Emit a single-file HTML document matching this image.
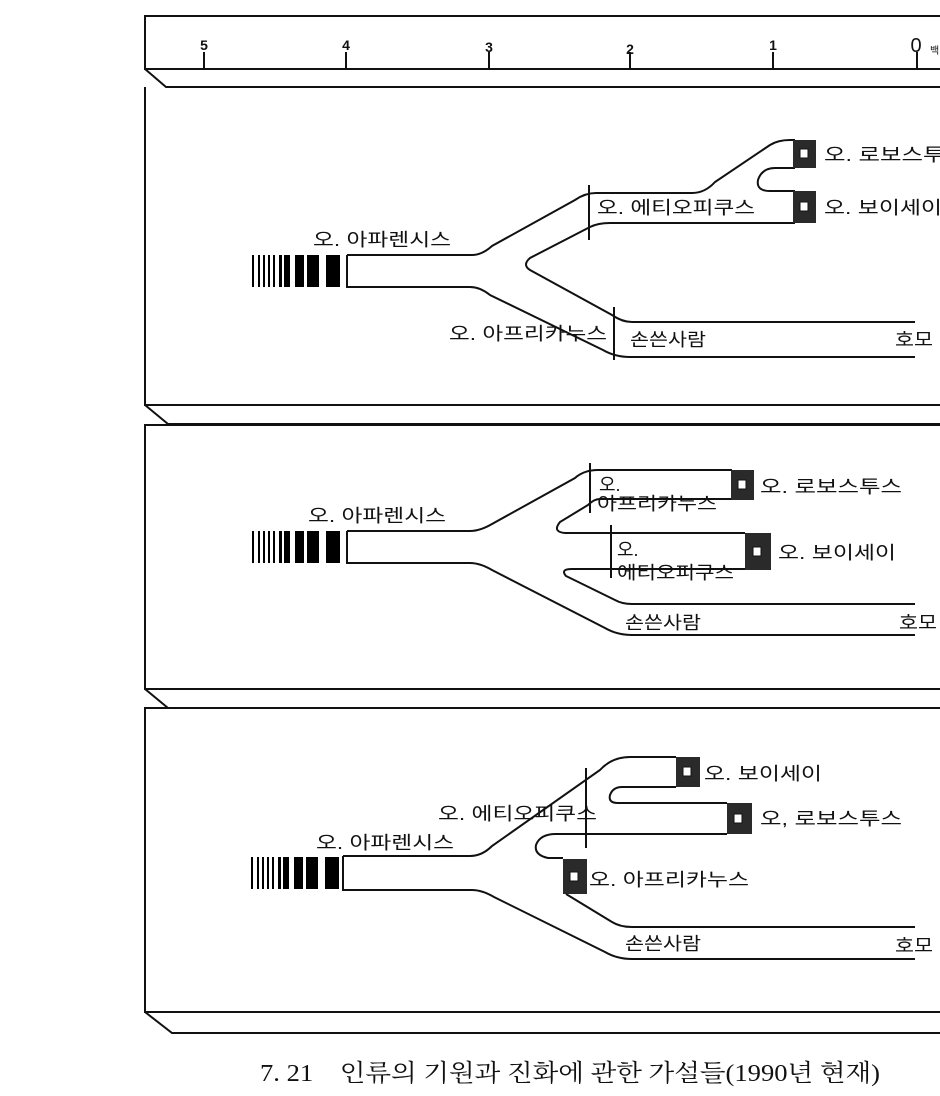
<!DOCTYPE html>
<html><head><meta charset="utf-8"><style>
html,body{margin:0;padding:0;background:#fff;}
svg{display:block;}
text{font-family:"Liberation Sans","Noto Sans CJK KR","NanumGothic",sans-serif;fill:#111;}
</style></head><body>
<svg width="940" height="1096" viewBox="0 0 940 1096" xmlns="http://www.w3.org/2000/svg">
<defs>
<g id="bars">
<rect x="252" y="0" width="2" height="32"/>
<rect x="258" y="0" width="2" height="32"/>
<rect x="263" y="0" width="2" height="32"/>
<rect x="268" y="0" width="2" height="32"/>
<rect x="273" y="0" width="2" height="32"/>
<rect x="279" y="0" width="3" height="32"/>
<rect x="284" y="0" width="6" height="32"/>
<rect x="295" y="0" width="9" height="32"/>
<rect x="307" y="0" width="12" height="32"/>
<rect x="326" y="0" width="14" height="32"/>
</g>
</defs>
<g fill="none" stroke="#111" stroke-width="2">
<path d="M940 16 H145 V69 H940"/>
<path d="M145 69 L166 87 H940"/>
<path d="M204 52 V69 M346 52 V69 M489 52 V69 M630 52 V69 M773 52 V69 M917 52 V69"/>
<path d="M145 87 V405 H940 M145 405 L168 424 H940"/>
<path d="M940 425 H145 V689 H940 M145 689 L168 708 H940"/>
<path d="M940 708 H145 V1012 H940 M145 1012 L172 1033 H940"/>
</g>

<g font-size="14" font-weight="bold" text-anchor="middle">
<text x="204" y="50">5</text><text x="346" y="50">4</text><text x="489" y="52">3</text>
<text x="630" y="54">2</text><text x="773" y="50">1</text>
</g>
<text x="916" y="52" font-size="20" text-anchor="middle">0</text>
<text x="930" y="54" font-size="10">백</text>

<g lengthAdjust="spacingAndGlyphs">
<!-- PANEL 1 -->
<use href="#bars" transform="translate(0,255)"/>
<g fill="none" stroke="#111" stroke-width="2">
<path d="M347 255 H472 Q482 255 492 246 L575 200 Q585 193 596 193 H692 Q705 193 715 182 L770 145 Q778 140 790 140 H795"/>
<path d="M347 255 V287 H470 Q480 287 490 295 L603 350 Q615 357 630 357 H915"/>
<path d="M915 322 H632 Q622 322 612 315 L530 270 Q522 265 530 258 L590 227 Q598 223 610 223 H795"/>
<path d="M795 168 H775 Q762 168 758 180 Q756 191 770 191 H795"/>
<path d="M589 185 V240 M614 307 V360"/>
</g>
<rect x="793" y="140" width="23" height="28" fill="#2a2a2a"/>
<rect x="800" y="149" width="8" height="9" fill="#fff" stroke="#111"/>
<rect x="793" y="191" width="23" height="32" fill="#2a2a2a"/>
<rect x="800" y="202" width="8" height="9" fill="#fff" stroke="#111"/>
<g font-size="18">
<text x="313" y="246" textLength="138" lengthAdjust="spacingAndGlyphs">오. 아파렌시스</text>
<text x="449" y="340" textLength="158" lengthAdjust="spacingAndGlyphs">오. 아프리카누스</text>
<text x="630" y="346" textLength="76" lengthAdjust="spacingAndGlyphs">손쓴사람</text>
<text x="895" y="346" textLength="38" lengthAdjust="spacingAndGlyphs">호모</text>
<text x="597" y="214" textLength="158" lengthAdjust="spacingAndGlyphs">오. 에티오피쿠스</text>
<text x="824" y="161" textLength="142" lengthAdjust="spacingAndGlyphs">오. 로보스투스</text>
<text x="824" y="214" textLength="118" lengthAdjust="spacingAndGlyphs">오. 보이세이</text>
</g>

<!-- PANEL 2 -->
<use href="#bars" transform="translate(0,531)"/>
<g fill="none" stroke="#111" stroke-width="2">
<path d="M347 531 H470 Q480 531 492 524 L575 478 Q584 470 598 470 H732"/>
<path d="M347 531 V563 H470 Q480 563 492 570 L605 628 Q617 635 632 635 H915"/>
<path d="M732 499 H600 Q594 499 588 505 L560 522 Q552 532 565 533 H745"/>
<path d="M745 569 H572 Q560 569 566 576 L615 600 Q622 604 632 604 H915"/>
<path d="M590 463 V513 M611 525 V578"/>
</g>
<rect x="731" y="470" width="23" height="30" fill="#2a2a2a"/>
<rect x="738" y="480" width="8" height="9" fill="#fff" stroke="#111"/>
<rect x="745" y="533" width="26" height="37" fill="#2a2a2a"/>
<rect x="753" y="547" width="8" height="9" fill="#fff" stroke="#111"/>
<g font-size="18">
<text x="308" y="522" textLength="138" lengthAdjust="spacingAndGlyphs">오. 아파렌시스</text>
<text x="599" y="491">오.</text>
<text x="597" y="510" textLength="120" lengthAdjust="spacingAndGlyphs">아프리카누스</text>
<text x="617" y="556">오.</text>
<text x="617" y="579" textLength="117" lengthAdjust="spacingAndGlyphs">에티오피쿠스</text>
<text x="760" y="493" textLength="142" lengthAdjust="spacingAndGlyphs">오. 로보스투스</text>
<text x="778" y="559" textLength="118" lengthAdjust="spacingAndGlyphs">오. 보이세이</text>
<text x="625" y="629" textLength="76" lengthAdjust="spacingAndGlyphs">손쓴사람</text>
<text x="899" y="629" textLength="38" lengthAdjust="spacingAndGlyphs">호모</text>
</g>

<!-- PANEL 3 -->
<use href="#bars" transform="translate(-1,857)"/>
<g fill="none" stroke="#111" stroke-width="2">
<path d="M343 856 H470 Q482 856 492 846 L600 770 Q612 757 630 757 H676"/>
<path d="M343 856 V890 H472 Q482 890 494 897 L605 952 Q617 959 632 959 H915"/>
<path d="M676 787 H622 Q613 787 610 795 Q608 803 618 803 H727"/>
<path d="M727 834 H556 Q540 834 536 845 Q534 855 548 858 H563"/>
<path d="M566 894 L612 922 Q620 927 632 927 H915"/>
<path d="M586 768 V848"/>
</g>
<rect x="676" y="757" width="24" height="30" fill="#2a2a2a"/>
<rect x="683" y="767" width="8" height="9" fill="#fff" stroke="#111"/>
<rect x="727" y="803" width="25" height="31" fill="#2a2a2a"/>
<rect x="734" y="814" width="8" height="9" fill="#fff" stroke="#111"/>
<rect x="563" y="859" width="24" height="35" fill="#2a2a2a"/>
<rect x="570" y="872" width="8" height="9" fill="#fff" stroke="#111"/>
<g font-size="18">
<text x="438" y="820" textLength="159" lengthAdjust="spacingAndGlyphs">오. 에티오피쿠스</text>
<text x="316" y="849" textLength="138" lengthAdjust="spacingAndGlyphs">오. 아파렌시스</text>
<text x="704" y="780" textLength="118" lengthAdjust="spacingAndGlyphs">오. 보이세이</text>
<text x="760" y="825" textLength="142" lengthAdjust="spacingAndGlyphs">오, 로보스투스</text>
<text x="589" y="886" textLength="160" lengthAdjust="spacingAndGlyphs">오. 아프리카누스</text>
<text x="625" y="950" textLength="76" lengthAdjust="spacingAndGlyphs">손쓴사람</text>
<text x="895" y="952" textLength="38" lengthAdjust="spacingAndGlyphs">호모</text>
</g>
</g>

<text x="260" y="1081" font-size="24" textLength="620" lengthAdjust="spacingAndGlyphs" style="font-family:'Liberation Serif','Noto Serif CJK SC','Noto Sans CJK KR',serif">7. 21　인류의 기원과 진화에 관한 가설들(1990년 현재)</text>
</svg>
</body></html>
